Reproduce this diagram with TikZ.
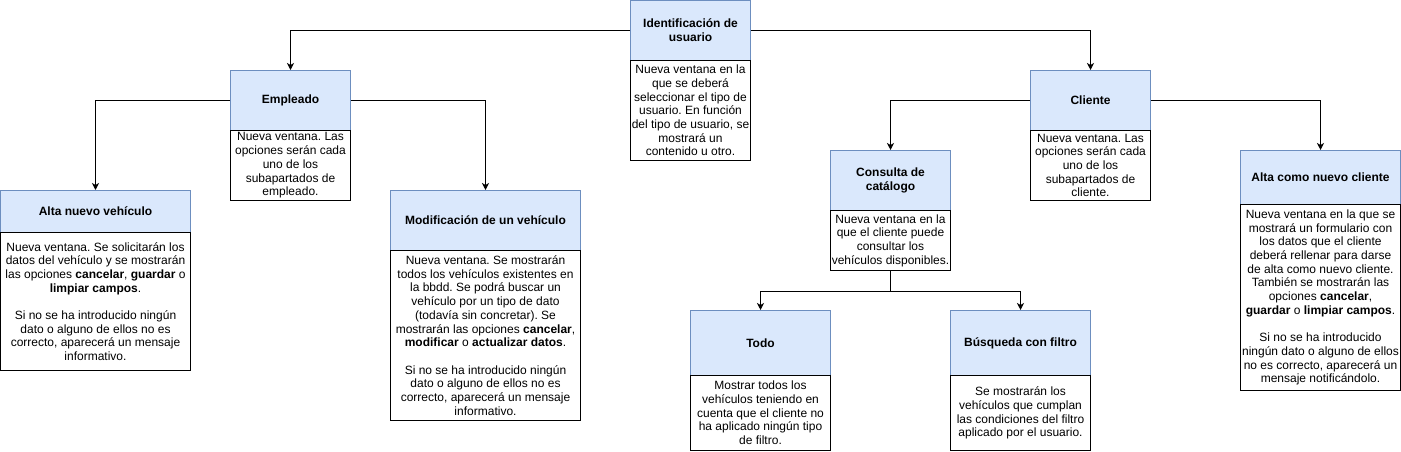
\documentclass[tikz,border=0pt]{standalone}
\usepackage{fontspec}
\setmainfont{Liberation Sans}
\usetikzlibrary{arrows.meta}
\definecolor{hdrfill}{HTML}{DAE8FC}
\definecolor{hdrline}{HTML}{6C8EBF}
\frenchspacing
\tikzset{
  hdr/.style={draw=hdrline, fill=hdrfill, line width=1pt, anchor=north west, inner sep=0pt, align=center,
    font=\fontsize{12}{14}\selectfont\bfseries},
  body/.style={draw=black, fill=white, line width=1pt, anchor=north west, inner sep=0pt, align=center,
    font=\fontsize{12}{13.7}\selectfont},
  arr/.style={draw=black, line width=1pt, -{Stealth[length=7pt,width=7pt,inset=2pt]}}
}
\begin{document}
\begin{tikzpicture}[x=1pt,y=-1pt]
\useasboundingbox (0,0) rectangle (1401,452);
% headers
\node[hdr, minimum width=120pt, minimum height=60pt] (idh) at (630,0) {Identificación de\\usuario};
\node[hdr, minimum width=120pt, minimum height=60pt] (emph) at (230,70) {Empleado};
\node[hdr, minimum width=190pt, minimum height=42pt] (avh) at (0,190) {Alta nuevo vehículo};
\node[hdr, minimum width=190pt, minimum height=60pt] (mvh) at (390,190) {Modificación de un vehículo};
\node[hdr, minimum width=120pt, minimum height=60pt] (clih) at (1030,70) {Cliente};
\node[hdr, minimum width=120pt, minimum height=60pt] (conh) at (830,150) {Consulta de\\catálogo};
\node[hdr, minimum width=160pt, minimum height=54pt] (ach) at (1240,150) {Alta como nuevo cliente};
\node[hdr, minimum width=140pt, minimum height=65pt] (todh) at (690,310) {Todo};
\node[hdr, minimum width=140pt, minimum height=65pt] (bush) at (950,310) {Búsqueda con filtro};
% bodies
\node[body, minimum width=120pt, minimum height=100pt] (idb) at (630,60)
  {Nueva ventana en la\\que se deberá\\seleccionar el tipo de\\usuario. En función\\del tipo de usuario, se\\mostrará un\\contenido u otro.};
\node[body, minimum width=120pt, minimum height=70pt] (empb) at (230,130)
  {Nueva ventana. Las\\opciones serán cada\\uno de los\\subapartados de\\empleado.};
\node[body, minimum width=190pt, minimum height=138pt] (avb) at (0,232)
  {Nueva ventana. Se solicitarán los\\datos del vehículo y se mostrarán\\las opciones \textbf{cancelar}, \textbf{guardar} o\\\textbf{limpiar campos}.\\[13.7pt]Si no se ha introducido ningún\\dato o alguno de ellos no es\\correcto, aparecerá un mensaje\\informativo.};
\node[body, minimum width=190pt, minimum height=170pt] (mvb) at (390,250)
  {Nueva ventana. Se mostrarán\\todos los vehículos existentes en\\la bbdd. Se podrá buscar un\\vehículo por un tipo de dato\\(todavía sin concretar). Se\\mostrarán las opciones \textbf{cancelar},\\\textbf{modificar} o \textbf{actualizar datos}.\\[13.7pt]Si no se ha introducido ningún\\dato o alguno de ellos no es\\correcto, aparecerá un mensaje\\informativo.};
\node[body, minimum width=120pt, minimum height=70pt] (clib) at (1030,130)
  {Nueva ventana. Las\\opciones serán cada\\uno de los\\subapartados de\\cliente.};
\node[body, minimum width=120pt, minimum height=60pt] (conb) at (830,210)
  {Nueva ventana en la\\que el cliente puede\\consultar los\\vehículos disponibles.};
\node[body, minimum width=160pt, minimum height=186pt] (acb) at (1240,204)
  {Nueva ventana en la que se\\mostrará un formulario con\\los datos que el cliente\\deberá rellenar para darse\\de alta como nuevo cliente.\\También se mostrarán las\\opciones \textbf{cancelar},\\\textbf{guardar} o \textbf{limpiar campos}.\\[13.7pt]Si no se ha introducido\\ningún dato o alguno de ellos\\no es correcto, aparecerá un\\mensaje notificándolo.};
\node[body, minimum width=140pt, minimum height=75pt] (todb) at (690,375)
  {Mostrar todos los\\vehículos teniendo en\\cuenta que el cliente no\\ha aplicado ningún tipo\\de filtro.};
\node[body, minimum width=140pt, minimum height=75pt] (busb) at (950,375)
  {Se mostrarán los\\vehículos que cumplan\\las condiciones del filtro\\aplicado por el usuario.};
% connectors
\draw[arr] (idh.west) -| (emph.north);
\draw[arr] (idh.east) -| (clih.north);
\draw[arr] (emph.west) -| (avh.north);
\draw[arr] (emph.east) -| (mvh.north);
\draw[arr] (clih.west) -| (conh.north);
\draw[arr] (clih.east) -| (ach.north);
\draw[arr] (conb.south) -- ++(0,20) -| (todh.north);
\draw[arr] (conb.south) -- ++(0,20) -| (bush.north);
\end{tikzpicture}
\end{document}
